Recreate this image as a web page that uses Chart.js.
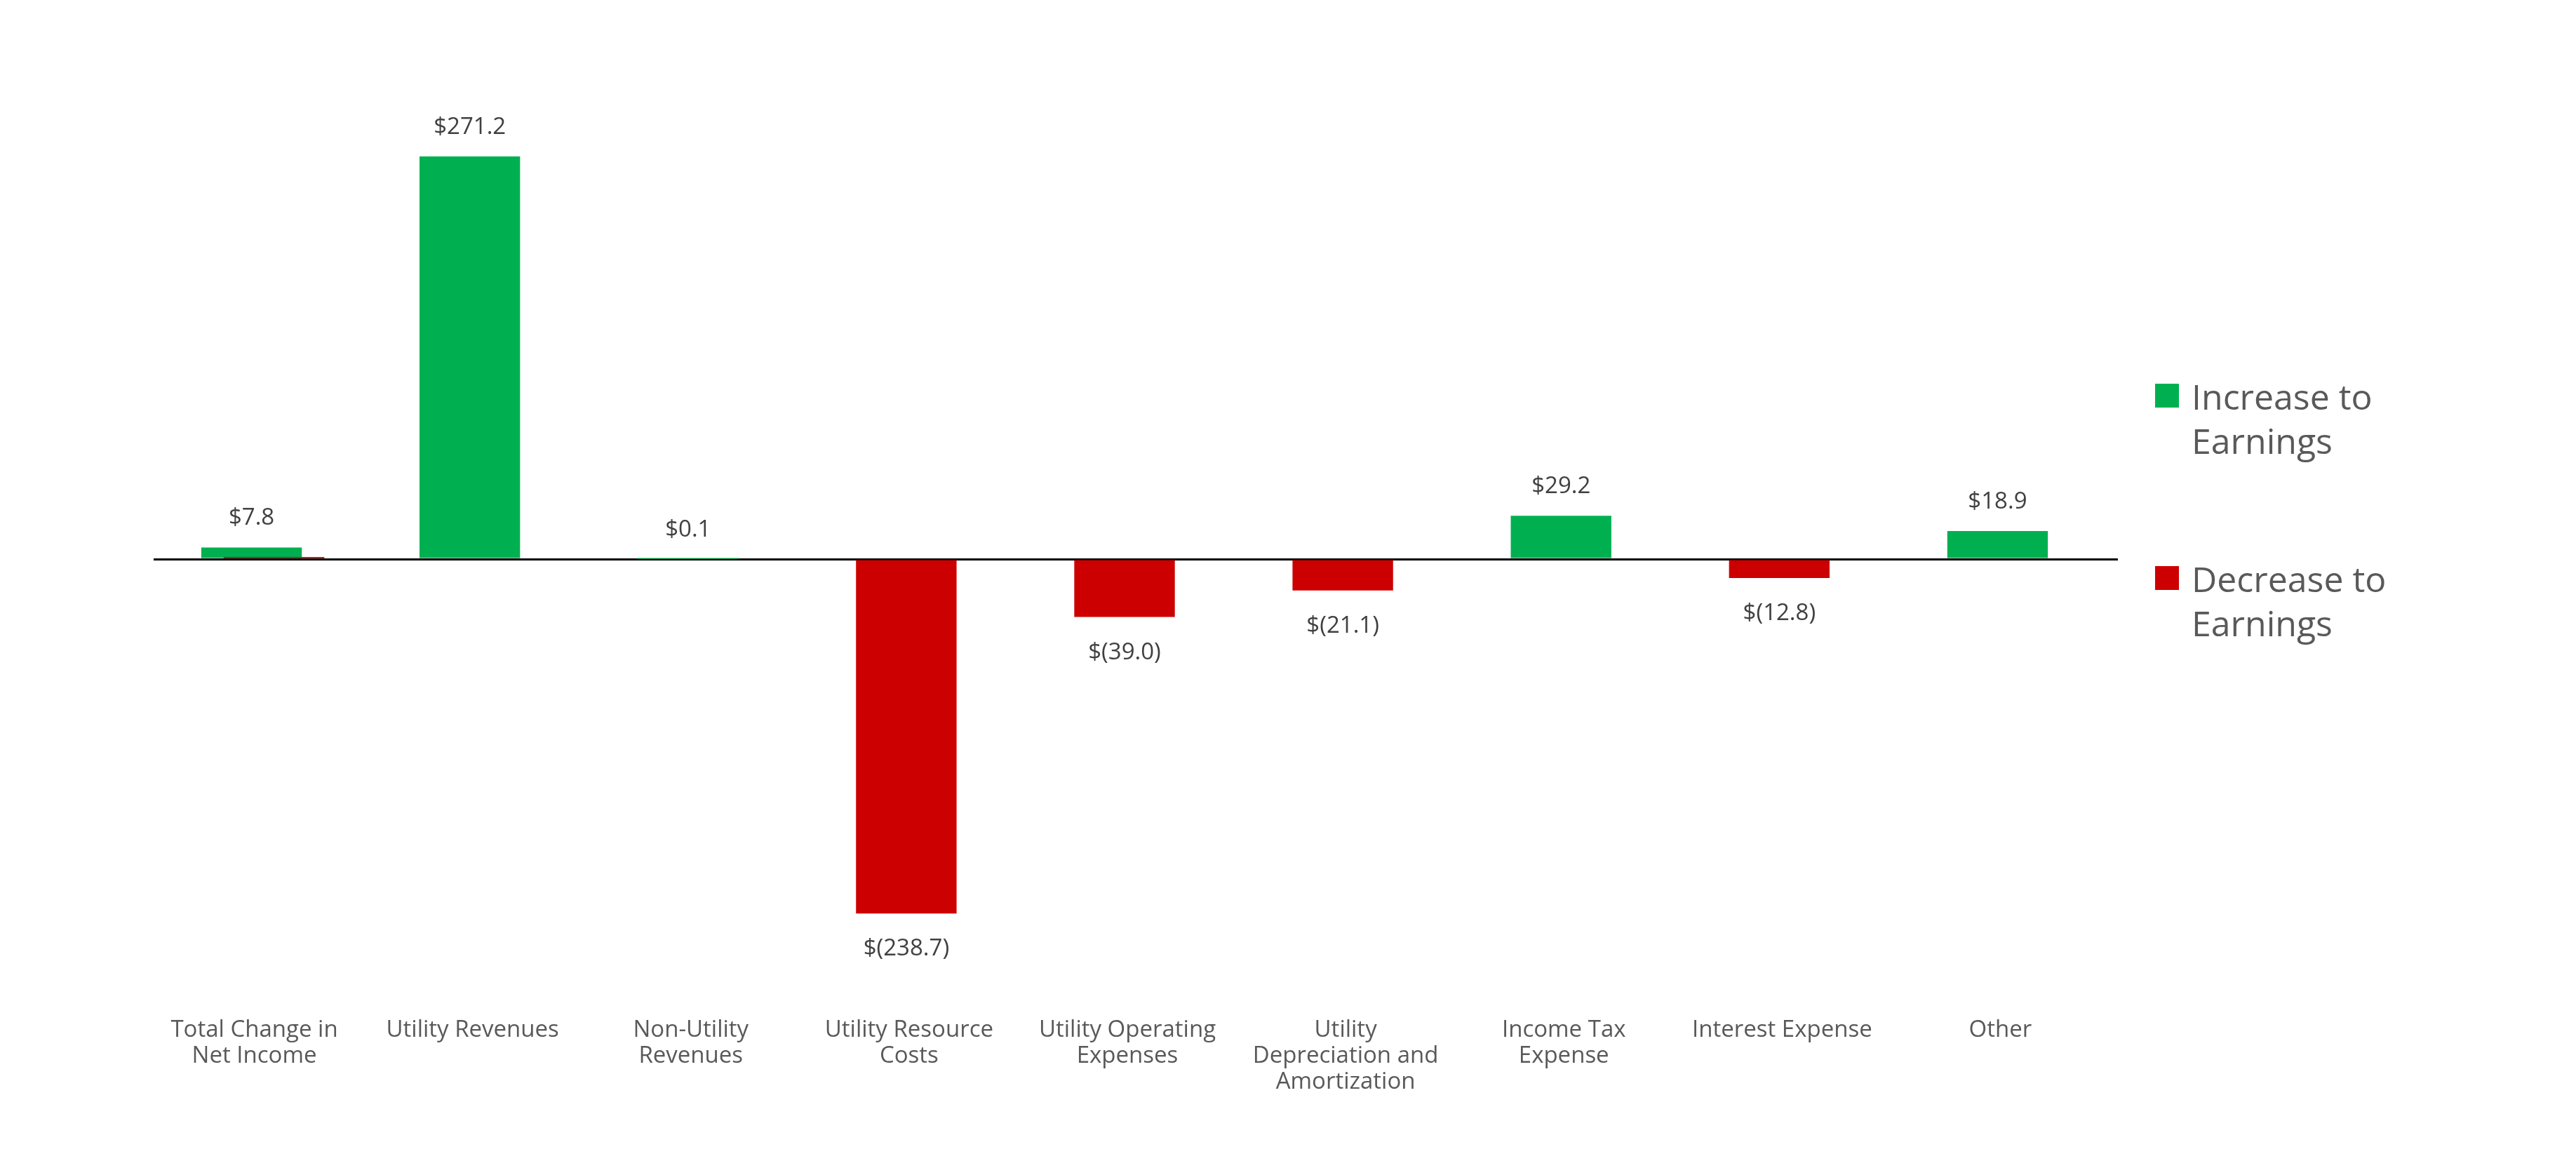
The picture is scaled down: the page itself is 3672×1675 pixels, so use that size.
<!DOCTYPE html>
<html>
<head>
<meta charset="utf-8">
<script src="https://cdn.jsdelivr.net/npm/chart.js@4/dist/chart.umd.min.js"></script>
<style>
  html, body { margin: 0; padding: 0; background: #fff; }
  #wrap { position: relative; width: 3672px; height: 1675px; }
  #legend { position: absolute; left: 0; top: 0; font-family: "Open Sans", sans-serif; color: #595959; }
  .item { position: absolute; }
  .box { position: absolute; width: 34px; height: 34px; }
  .txt { position: absolute; font-size: 50px; line-height: 63px; white-space: nowrap; }
</style>
</head>
<body>
<div id="wrap">
  <canvas id="chart" width="3672" height="1675"></canvas>
  <div id="legend"></div>
</div>
<script>
// categories (split into lines as on the axis)
const categories = [
  ['Total Change in', 'Net Income'],
  ['Utility Revenues'],
  ['Non-Utility', 'Revenues'],
  ['Utility Resource', 'Costs'],
  ['Utility Operating', 'Expenses'],
  ['Utility', 'Depreciation and', 'Amortization'],
  ['Income Tax', 'Expense'],
  ['Interest Expense'],
  ['Other']
];

// $ millions
const increaseValues = [7.8, 271.2, 0.1, 0, 0, 0, 29.2, 0, 18.9];
const decreaseValues = [0, 0, 0, -238.7, -39.0, -21.1, 0, -12.8, 0];
// thin red sliver that sits next to the total bar in the original
const totalSliverValues = [1.4, 0, 0, 0, 0, 0, 0, 0, 0];

const seriesNames = ['Increase to Earnings', 'Decrease to Earnings'];
const legendLines = [['Increase to', 'Earnings'], ['Decrease to', 'Earnings']];
const seriesColors = ['#00B050', '#CC0000'];

function money(v) {
  return v < 0 ? '$(' + Math.abs(v).toFixed(1) + ')' : '$' + v.toFixed(1);
}

// value labels above / below bars
const valueLabels = {
  id: 'valueLabels',
  afterDatasetsDraw(chart) {
    const ctx = chart.ctx;
    // the sliver is drawn over the green total bar
    chart.getDatasetMeta(2).data.forEach(el => el.draw(ctx));
    ctx.save();
    ctx.font = '33px "Open Sans"';
    ctx.fillStyle = '#404040';
    ctx.textAlign = 'center';
    ctx.textBaseline = 'alphabetic';
    [0, 1].forEach(di => {
      const meta = chart.getDatasetMeta(di);
      chart.data.datasets[di].data.forEach((v, i) => {
        const bar = meta.data[i];
        if (di === 0 && v > 0) ctx.fillText(money(v), bar.x, bar.y - 32);
        if (di === 1 && v < 0) ctx.fillText(money(v), bar.x, bar.y + 60);
      });
    });
    ctx.restore();
  }
};

const ctx = document.getElementById('chart').getContext('2d');
new Chart(ctx, {
  type: 'bar',
  data: {
    labels: categories,
    datasets: [
      { label: seriesNames[0], data: increaseValues, backgroundColor: seriesColors[0], stack: 'main' },
      { label: seriesNames[1], data: decreaseValues, backgroundColor: seriesColors[1], stack: 'main' },
      { label: 'sliver', data: totalSliverValues, backgroundColor: seriesColors[1], stack: 'side' }
    ]
  },
  options: {
    responsive: false,
    animation: false,
    devicePixelRatio: 1,
    categoryPercentage: 0.2057,
    barPercentage: 4.48,
    layout: { padding: { left: 219, right: 653, top: 162, bottom: 0 } },
    plugins: { legend: { display: false }, tooltip: { enabled: false } },
    scales: {
      x: {
        grid: { display: false, drawTicks: false },
        border: { display: false },
        ticks: {
          color: '#595959',
          padding: 18,
          labelOffset: -12,
          maxRotation: 0,
          autoSkip: false,
          font: { family: 'Open Sans', size: 33, lineHeight: 1.12 }
        },
        afterFit(scale) { scale.height = 243; }
      },
      y: {
        stacked: true,
        min: -300,
        max: 300,
        z: 1,
        ticks: { display: false, stepSize: 100 },
        border: { display: false },
        grid: {
          drawTicks: false,
          lineWidth: 3,
          color: c => (c.tick && c.tick.value === 0 ? '#000000' : 'rgba(0,0,0,0)')
        },
        afterFit(scale) { scale.width = 0; }
      }
    }
  },
  plugins: [valueLabels]
});

// legend at the right
const legend = document.getElementById('legend');
const legendTops = [534, 794];
seriesNames.forEach((name, i) => {
  const item = document.createElement('div');
  item.className = 'item';
  item.style.left = '3072px';
  item.style.top = legendTops[i] + 'px';
  const box = document.createElement('div');
  box.className = 'box';
  box.style.background = seriesColors[i];
  box.style.left = '0px';
  box.style.top = '13px';
  const txt = document.createElement('div');
  txt.className = 'txt';
  txt.style.left = '52px';
  txt.style.top = '0px';
  txt.innerHTML = legendLines[i].join('<br>');
  item.appendChild(box);
  item.appendChild(txt);
  legend.appendChild(item);
});
</script>
</body>
</html>
